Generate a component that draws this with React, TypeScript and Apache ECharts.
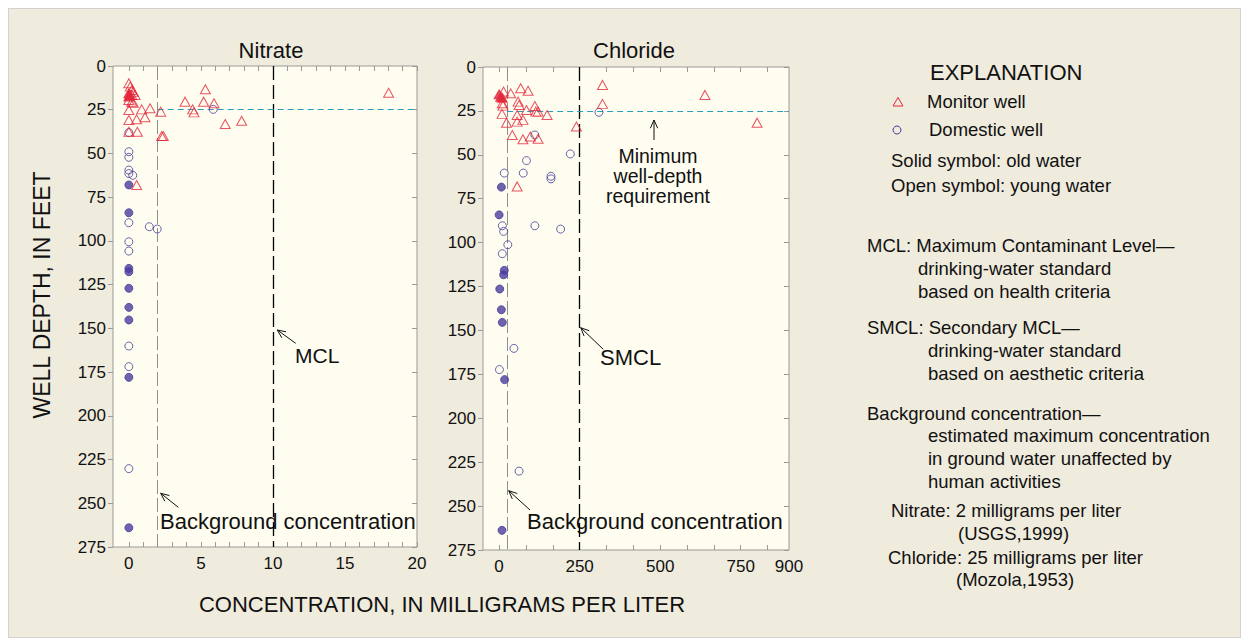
import React, { useEffect, useRef } from "react";
import * as echarts from "echarts";

// ---------- DATA ----------
// [concentration (mg/L), well depth (ft)]
const nitrateMonitorOpen: [number, number][] = [
  [0, 9.9], [0.1, 11.8], [0.2, 13.7], [0.31, 14.7], [0.43, 16.6], [0.2, 16.6],
  [0, 19.4], [0.2, 20.4], [0.31, 21], [0.89, 24.8], [1.47, 24.2], [0, 25.2],
  [0, 30.9], [1.12, 29.3], [0.54, 30.5], [0, 37.6], [0.59, 37.6], [2.21, 26.1],
  [2.28, 40], [2.39, 40], [3.9, 20.4], [4.43, 24.8], [4.52, 26.5], [5.31, 13.3],
  [5.19, 20.4], [5.91, 21.3], [6.69, 33.2], [7.83, 31.3], [18.03, 15.3], [0.54, 68],
];
const nitrateMonitorSolid: [number, number][] = [[0, 15.6], [0.08, 16.6], [0, 17.5]];
const nitrateDomesticOpen: [number, number][] = [
  [5.86, 24.8], [0, 38.1], [0, 49], [0, 52.2], [0, 59.5], [0, 61.5], [0.27, 62.5],
  [0, 89.6], [1.42, 91.9], [1.97, 93.2], [0, 100.5], [0, 105.8], [0, 160.1],
  [0, 171.9], [0, 230.2],
];
const nitrateDomesticSolid: [number, number][] = [
  [0, 68], [0, 83.9], [0, 115.7], [0, 117.6], [0, 127.1], [0, 138], [0, 145.2],
  [0, 178], [0, 264],
];

const chlorideMonitorOpen: [number, number][] = [
  [14, 14], [36, 15], [67, 12.1], [90, 13.5], [10, 20.6], [12, 22], [59, 19.7],
  [62, 21.6], [9, 26.7], [23, 31.7], [56, 31.1], [74, 30.1], [56, 27.3], [85, 24.5],
  [111, 22.2], [114, 25.4], [121, 25.4], [149, 27.3], [41, 38.7], [74, 41.1],
  [97, 39.6], [121, 40.9], [240, 33.9], [321, 10.2], [321, 21], [639, 15.9],
  [801, 31.7], [56, 68],
];
const chlorideMonitorSolid: [number, number][] = [[0, 15.5], [5, 16.9], [10, 17.5]];
const chlorideDomesticOpen: [number, number][] = [
  [310, 25.8], [111, 38.7], [85, 53.3], [221, 49.5], [16, 60.4], [75, 60.4],
  [161, 62.2], [161, 63.7], [10, 90.4], [14, 93.6], [111, 90.4], [191, 92.3],
  [27, 101.2], [10, 106.3], [46, 160.2], [1, 172.3], [62, 230.1],
];
const chlorideDomesticSolid: [number, number][] = [
  [7, 68.4], [0, 84.2], [16, 115.8], [14, 118.3], [2, 126.4], [7, 138.2],
  [10, 145.4], [17, 178], [9, 263.8],
];

const nitrateXLabels = [0, 5, 10, 15, 20];
const nitrateXTicks = [0, 1, 2, 3, 4, 5, 6, 7, 8, 9, 10, 11, 12, 13, 14, 15, 16, 17, 18, 19, 20];
const chlorideXLabels = [0, 250, 500, 750, 900];
const chlorideXTicks = [0, 83.33, 166.67, 250, 333.33, 416.67, 500, 583.33, 666.67, 750, 833.33];

const nitrateBackground = 2;
const nitrateMCL = 10;
const chlorideBackground = 25;
const chlorideSMCL = 250;
const minWellDepth = 25;

// ---------- STYLE ----------
const FONT = "'Liberation Sans', Arial, Helvetica, sans-serif";
const RED = "#e3283b";
const PURPLE = "#4a3c9c";
const GRID_BORDER = "#9a9a9a";

function arrow(x1: number, y1: number, x2: number, y2: number) {
  const ang = Math.atan2(y2 - y1, x2 - x1);
  const L = 9;
  const a = 0.42;
  const p1 = [x2 - L * Math.cos(ang - a), y2 - L * Math.sin(ang - a)];
  const p2 = [x2 - L * Math.cos(ang + a), y2 - L * Math.sin(ang + a)];
  return [
    { type: "line", shape: { x1, y1, x2, y2 }, style: { stroke: "#111", lineWidth: 1 } },
    { type: "polyline", shape: { points: [p1, [x2, y2], p2] }, style: { stroke: "#111", fill: null, lineWidth: 1 } },
  ];
}

function txt(text: string, x: number, y: number, fontSize: number, align = "left", extra: any = {}, styleExtra: any = {}) {
  return {
    type: "text",
    x,
    y,
    ...extra,
    style: { text, fontSize, fontFamily: FONT, fill: "#111", align, verticalAlign: "middle", ...styleExtra },
  };
}

function xAxes(gridIndex: number, min: number, max: number, labels: number[], ticks: number[]) {
  const base = {
    type: "value",
    gridIndex,
    min,
    max,
    splitLine: { show: false },
    axisLine: { show: false, onZero: false },
  };
  return [
    {
      ...base,
      position: "bottom",
      axisTick: { show: true, inside: true, length: 5, customValues: ticks, lineStyle: { color: GRID_BORDER } },
      axisLabel: { show: true, customValues: labels, fontSize: 17, color: "#111", fontFamily: FONT, margin: 8 },
    },
    {
      ...base,
      position: "top",
      axisTick: { show: true, inside: true, length: 5, customValues: ticks, lineStyle: { color: GRID_BORDER } },
      axisLabel: { show: false },
    },
  ];
}

function yAxes(gridIndex: number) {
  const base = {
    type: "value",
    gridIndex,
    inverse: true,
    min: 0,
    max: 275,
    interval: 25,
    splitLine: { show: false },
    axisLine: { show: false, onZero: false },
  };
  return [
    {
      ...base,
      position: "left",
      axisTick: { show: true, inside: false, length: 5, lineStyle: { color: GRID_BORDER } },
      axisLabel: { show: true, fontSize: 17, color: "#111", fontFamily: FONT, margin: 7 },
    },
    {
      ...base,
      position: "right",
      axisTick: { show: true, inside: true, length: 5, lineStyle: { color: GRID_BORDER } },
      axisLabel: { show: false },
    },
  ];
}

function scatter(data: [number, number][], idx: number, kind: "tri" | "circ", solid: boolean, extra: any = {}) {
  const color = kind === "tri" ? RED : PURPLE;
  return {
    type: "scatter",
    xAxisIndex: idx,
    yAxisIndex: idx,
    data,
    symbol: kind === "tri" ? "triangle" : "circle",
    symbolSize: kind === "tri" ? [10, 9] : 8,
    itemStyle: solid
      ? { color, borderColor: color, borderWidth: 1 }
      : { color: "rgba(0,0,0,0)", borderColor: color, borderWidth: 1 },
    z: 5,
    ...extra,
  };
}

function refLines(bg: number, std: number, xmax: number) {
  return {
    silent: true,
    symbol: ["none", "none"],
    label: { show: false },
    animation: false,
    data: [
      { xAxis: bg, lineStyle: { color: "#8f8f8f", type: [14, 4], width: 1 } },
      { xAxis: std, lineStyle: { color: "#000", type: [14, 5], width: 1.3 } },
      [
        { coord: [bg, minWellDepth], lineStyle: { color: "#2a9dbd", type: [6, 4], width: 1 } },
        { coord: [xmax, minWellDepth] },
      ],
    ],
  };
}

export default function App() {
  const ref = useRef<HTMLDivElement>(null);
  useEffect(() => {
    const chart = echarts.init(ref.current!, null, { renderer: "svg" });
    const graphic: any[] = [
      txt("Nitrate", 271, 50, 22, "center"),
      txt("Chloride", 634, 50, 22, "center"),
      txt("WELL DEPTH, IN FEET", 42, 295, 23, "center", { rotation: Math.PI / 2 }),
      txt("CONCENTRATION, IN MILLIGRAMS PER LITER", 442, 604, 22, "center"),
      // annotations
      txt("MCL", 295, 355, 21),
      ...arrow(295.7, 343.3, 277.3, 330),
      txt("Background concentration", 160, 521, 22),
      ...arrow(178.3, 507.3, 160.7, 493.3),
      txt("SMCL", 600, 357, 22),
      ...arrow(603.3, 349.3, 580.7, 327.7),
      txt("Background concentration", 527, 521, 22),
      ...arrow(530, 510, 508.7, 490.7),
      txt("Minimum\nwell-depth\nrequirement", 658, 176, 19.5, "center", {}, { lineHeight: 20 }),
      ...arrow(654, 140, 654, 120),
      // explanation
      txt("EXPLANATION", 930, 72, 22),
      {
        type: "polygon",
        shape: { points: [[893, 106], [898, 97.5], [903, 106]] },
        style: { stroke: RED, fill: null, lineWidth: 1 },
      },
      txt("Monitor well", 927, 101, 18.5),
      { type: "circle", shape: { cx: 897, cy: 130, r: 4 }, style: { stroke: PURPLE, fill: null, lineWidth: 1 } },
      txt("Domestic well", 929, 129, 18.5),
      txt("Solid symbol: old water", 891, 160, 18.5),
      txt("Open symbol: young water", 891, 185, 18.5),
      txt("MCL: Maximum Contaminant Level\u2014", 867, 245, 18.5),
      txt("drinking-water standard", 918, 268, 18.5),
      txt("based on health criteria", 918, 291, 18.5),
      txt("SMCL: Secondary MCL\u2014", 867, 327, 18.5),
      txt("drinking-water standard", 928, 350, 18.5),
      txt("based on aesthetic criteria", 928, 373, 18.5),
      txt("Background concentration\u2014", 867, 413, 18.5),
      txt("estimated maximum concentration", 928, 435, 18.5),
      txt("in ground water unaffected by", 928, 458, 18.5),
      txt("human activities", 928, 481, 18.5),
      txt("Nitrate: 2 milligrams per liter", 891, 510, 18.5),
      txt("(USGS,1999)", 958, 533, 18.5),
      txt("Chloride: 25 milligrams per liter", 888, 557, 18.5),
      txt("(Mozola,1953)", 956, 579, 18.5),
    ];

    const option: any = {
      animation: false,
      backgroundColor: "transparent",
      textStyle: { fontFamily: FONT },
      grid: [
        { left: 113, top: 66, width: 304, height: 481, show: true, backgroundColor: "#fefdf0", borderColor: GRID_BORDER, borderWidth: 1 },
        { left: 483, top: 67, width: 306, height: 483, show: true, backgroundColor: "#fefdf0", borderColor: GRID_BORDER, borderWidth: 1 },
      ],
      xAxis: [
        ...xAxes(0, -1.1, 20, nitrateXLabels, nitrateXTicks),
        ...xAxes(1, -50, 900, chlorideXLabels, chlorideXTicks),
      ],
      yAxis: [...yAxes(0), ...yAxes(1)],
      series: [
        scatter(nitrateDomesticOpen, 0, "circ", false, { markLine: refLines(nitrateBackground, nitrateMCL, 20) }),
        scatter(nitrateDomesticSolid, 0, "circ", true),
        scatter(nitrateMonitorOpen, 0, "tri", false),
        scatter(nitrateMonitorSolid, 0, "tri", true),
        scatter(chlorideDomesticOpen, 2, "circ", false, { markLine: refLines(chlorideBackground, chlorideSMCL, 900) }),
        scatter(chlorideDomesticSolid, 2, "circ", true),
        scatter(chlorideMonitorOpen, 2, "tri", false),
        scatter(chlorideMonitorSolid, 2, "tri", true),
      ],
      graphic,
    };
    chart.setOption(option);
    return () => chart.dispose();
  }, []);

  return (
    <div style={{ position: "absolute", left: 0, top: 0, width: 1243, height: 640, background: "#fff" }}>
      <div
        style={{
          position: "absolute",
          left: 8,
          top: 8,
          width: 1233,
          height: 630,
          background: "#efebdd",
          border: "1px solid #d2d2d2",
          boxSizing: "border-box",
        }}
      />
      <div ref={ref} style={{ position: "absolute", left: 0, top: 0, width: 1243, height: 640 }} />
    </div>
  );
}
